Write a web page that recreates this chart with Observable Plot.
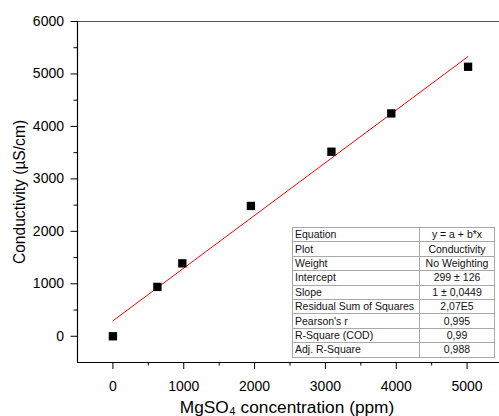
<!DOCTYPE html>
<html><head><meta charset="utf-8">
<script src="https://cdn.jsdelivr.net/npm/d3@7"></script>
<script src="https://cdn.jsdelivr.net/npm/@observablehq/plot@0.6"></script>
<style>
html,body{margin:0;padding:0;background:#fff;overflow:hidden;}
#wrap{position:relative;width:499px;height:416px;overflow:hidden;}
#fit{position:absolute;left:292px;top:227px;width:202px;border-collapse:collapse;table-layout:fixed;
  font:10.5px "Liberation Sans",Arial,sans-serif;color:#111;border:1.5px solid #333;background:#fff;}
#fit td{border:1px solid #a8a8a8;height:13.4px;padding:0 0 0 2px;line-height:13px;white-space:nowrap;overflow:hidden;}
#fit td.v{text-align:center;padding:0;}
</style>
</head><body>
<div id="wrap"><div id="chart"></div></div>
<script>
const concentration = [0, 628, 980, 1948, 3085, 3930, 5014];
const conductivity = [0, 941, 1390, 2484, 3518, 4248, 5137];
const xTicks = [0, 1000, 2000, 3000, 4000, 5000];
const xMinor = [500, 1500, 2500, 3500, 4500];
const yTicks = [0, 1000, 2000, 3000, 4000, 5000, 6000];
const yMinor = [500, 1500, 2500, 3500, 4500, 5500];
const fitLabels = ["Equation", "Plot", "Weight", "Intercept", "Slope", "Residual Sum of Squares", "Pearson's r", "R-Square (COD)", "Adj. R-Square"];
const fitValues = ["y = a + b*x", "Conductivity", "No Weighting", "299 ± 126", "1 ± 0,0449", "2,07E5", "0,995", "0,99", "0,988"];
const xTitle = "MgSO₄ concentration (ppm)";
const yTitle = "Conductivity (µS/cm)";

const points = concentration.map((c, i) => ({c, k: conductivity[i]}));

const chart = Plot.plot({
  width: 499, height: 416,
  marginLeft: 77, marginRight: -3, marginTop: 21, marginBottom: 54,
  x: {domain: [-500, 5500]},
  y: {domain: [-500, 6000]},
  style: {fontFamily: "'Liberation Sans', Arial, sans-serif", fontSize: "14px", color: "#000", background: "#fff"},
  marks: [
    Plot.ruleY([6000], {stroke: "#555", strokeWidth: 1.2}),
    Plot.ruleY([-500], {stroke: "#000", strokeWidth: 1.2}),
    Plot.ruleX([-500], {stroke: "#000", strokeWidth: 1.2}),
    Plot.axisX({ticks: xTicks, tickSize: 7, tickPadding: 12, tickFormat: "d", label: null, stroke: "#000"}),
    Plot.axisX({ticks: xMinor, tickSize: 3.5, tickFormat: () => "", label: null}),
    Plot.axisY({ticks: yTicks, tickSize: 6.5, tickPadding: 7, tickFormat: "d", label: null}),
    Plot.axisY({ticks: yMinor, tickSize: 3.5, tickFormat: () => "", label: null}),
    Plot.linearRegressionY(points, {x: "c", y: "k", stroke: "#ff0000", strokeWidth: 1, ci: 0}),
    Plot.dot(points, {x: "c", y: "k", symbol: "square", r: 4.7, fill: "#000", stroke: null}),
    Plot.text([yTitle], {text: d => d, frameAnchor: "left", textAnchor: "middle", lineAnchor: "middle", rotate: -90, dx: -58, fontSize: 15.6}),
    Plot.text([xTitle], {text: d => d, frameAnchor: "bottom", textAnchor: "middle", lineAnchor: "middle", dy: 44.5, dx: -3, fontSize: 17.3})
  ]
});
document.getElementById("chart").appendChild(chart);

const table = document.createElement("table");
table.id = "fit";
const col1 = document.createElement("col"); col1.style.width = "127px";
const col2 = document.createElement("col"); col2.style.width = "75px";
table.appendChild(col1); table.appendChild(col2);
fitLabels.forEach((lab, i) => {
  const tr = document.createElement("tr");
  const a = document.createElement("td"); a.textContent = lab;
  const b = document.createElement("td"); b.textContent = fitValues[i]; b.className = "v";
  tr.appendChild(a); tr.appendChild(b);
  table.appendChild(tr);
});
document.getElementById("wrap").appendChild(table);
</script>
</body></html>
